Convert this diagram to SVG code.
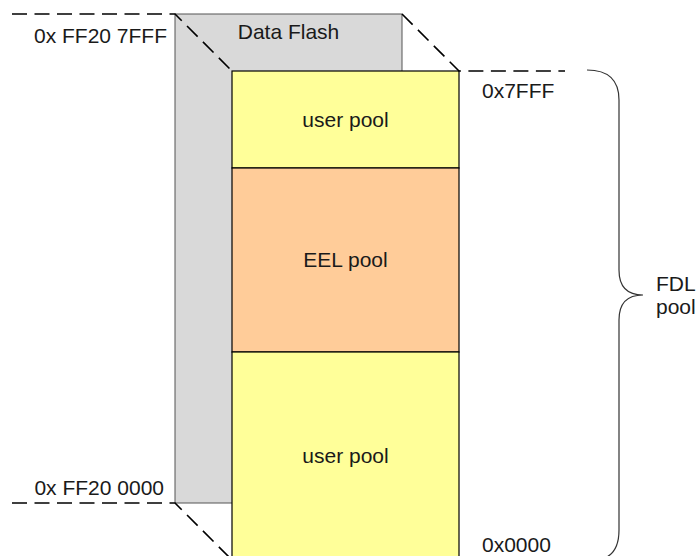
<svg xmlns="http://www.w3.org/2000/svg" width="696" height="556" viewBox="0 0 696 556">
<style>
text{font-family:"Liberation Sans",Arial,sans-serif;font-size:21px;fill:#1a1a1a}
.dash{fill:none;stroke:#000;stroke-width:1.6;stroke-dasharray:15 7.5}
.c{text-anchor:middle}
.r{text-anchor:end}
</style>
<rect width="696" height="556" fill="#fff"/>
<g id="data-flash">
<rect x="175" y="14" width="227" height="489" fill="#d9d9d9" stroke="#555" stroke-width="1"/>
<text class="c" x="288.5" y="39">Data Flash</text>
</g>
<g id="fdl-pool">
<rect id="user-pool-top" x="232" y="71" width="227" height="97" fill="#ffff99" stroke="#000" stroke-width="1.2"/>
<rect id="eel-pool" x="232" y="168" width="227" height="184" fill="#ffcc99" stroke="#000" stroke-width="1.2"/>
<rect id="user-pool-bottom" x="232" y="352" width="227" height="220" fill="#ffff99" stroke="#000" stroke-width="1.2"/>
<text class="c" x="345.5" y="127">user pool</text>
<text class="c" x="345.5" y="267">EEL pool</text>
<text class="c" x="345.5" y="463">user pool</text>
</g>
<g id="connectors">
<path class="dash" d="M12,14 H175 L232,71"/>
<path class="dash" d="M402,14 L459,71 H565"/>
<path class="dash" d="M12,503 H175 L235,563"/>
<path fill="none" stroke="#333" stroke-width="1.2" d="M587,70 Q619,70 619,100 L619,270 Q619,295 643,295 Q619,295 619,320 L619,530 Q619,558 596,560"/>
</g>
<g id="labels">
<text class="r" x="167" y="43">0x FF20 7FFF</text>
<text class="r" x="164" y="495">0x FF20 0000</text>
<text x="482" y="98">0x7FFF</text>
<text x="482" y="552">0x0000</text>
<text x="656" y="291">FDL</text>
<text x="656" y="314">pool</text>
</g>
</svg>
